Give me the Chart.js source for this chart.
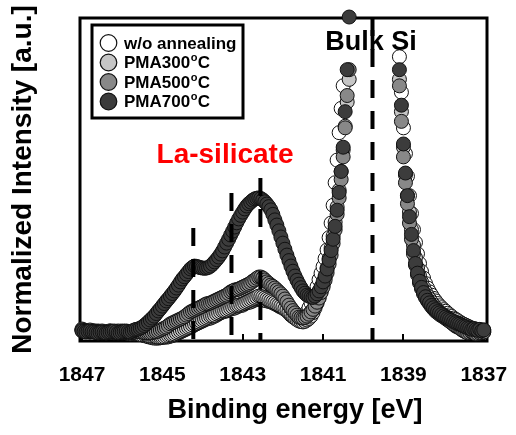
<!DOCTYPE html>
<html>
<head>
<meta charset="utf-8">
<script src="https://cdn.jsdelivr.net/npm/chart.js@4.4.1/dist/chart.umd.min.js"></script>
<style>
  html, body { margin: 0; padding: 0; background: #fff; }
</style>
</head>
<body>
<canvas id="chart" width="516" height="435"></canvas>
<script>
// Binding energy grid (eV), 0.05 eV steps
const energies = [
  1847.00,
  1846.95, 1846.90, 1846.85, 1846.80, 1846.75, 1846.70, 1846.65, 1846.60, 1846.55, 1846.50,
  1846.45, 1846.40, 1846.35, 1846.30, 1846.25, 1846.20, 1846.15, 1846.10, 1846.05, 1846.00,
  1845.95, 1845.90, 1845.85, 1845.80, 1845.75, 1845.70, 1845.65, 1845.60, 1845.55, 1845.50,
  1845.45, 1845.40, 1845.35, 1845.30, 1845.25, 1845.20, 1845.15, 1845.10, 1845.05, 1845.00,
  1844.95, 1844.90, 1844.85, 1844.80, 1844.75, 1844.70, 1844.65, 1844.60, 1844.55, 1844.50,
  1844.45, 1844.40, 1844.35, 1844.30, 1844.25, 1844.20, 1844.15, 1844.10, 1844.05, 1844.00,
  1843.95, 1843.90, 1843.85, 1843.80, 1843.75, 1843.70, 1843.65, 1843.60, 1843.55, 1843.50,
  1843.45, 1843.40, 1843.35, 1843.30, 1843.25, 1843.20, 1843.15, 1843.10, 1843.05, 1843.00,
  1842.95, 1842.90, 1842.85, 1842.80, 1842.75, 1842.70, 1842.65, 1842.60, 1842.55, 1842.50,
  1842.45, 1842.40, 1842.35, 1842.30, 1842.25, 1842.20, 1842.15, 1842.10, 1842.05, 1842.00,
  1841.95, 1841.90, 1841.85, 1841.80, 1841.75, 1841.70, 1841.65, 1841.60, 1841.55, 1841.50,
  1841.45, 1841.40, 1841.35, 1841.30, 1841.25, 1841.20, 1841.15, 1841.10, 1841.05, 1841.00,
  1840.95, 1840.90, 1840.85, 1840.80, 1840.75, 1840.70, 1840.65, 1840.60, 1840.55, 1840.50,
  1840.45, 1840.40, 1840.35, 1840.30, 1840.25, 1840.20, 1840.15, 1840.10, 1840.05, 1840.00,
  1839.95, 1839.90, 1839.85, 1839.80, 1839.75, 1839.70, 1839.65, 1839.60, 1839.55, 1839.50,
  1839.45, 1839.40, 1839.35, 1839.30, 1839.25, 1839.20, 1839.15, 1839.10, 1839.05, 1839.00,
  1838.95, 1838.90, 1838.85, 1838.80, 1838.75, 1838.70, 1838.65, 1838.60, 1838.55, 1838.50,
  1838.45, 1838.40, 1838.35, 1838.30, 1838.25, 1838.20, 1838.15, 1838.10, 1838.05, 1838.00,
  1837.95, 1837.90, 1837.85, 1837.80, 1837.75, 1837.70, 1837.65, 1837.60, 1837.55, 1837.50,
  1837.45, 1837.40, 1837.35, 1837.30, 1837.25, 1837.20, 1837.15, 1837.10, 1837.05, 1837.00
];

// Normalized intensity (a.u.), one value per energy above
const woAnneal = [
  3.7,
  3.4, 3.1, 3.2, 3.4, 3.1, 2.8, 3.0, 3.1, 2.8, 2.5, 2.6, 2.8, 3.0, 3.1, 2.8, 2.5, 2.6, 2.8, 3.0, 3.1,
  3.0, 2.8, 2.6, 2.5, 2.3, 2.2, 2.3, 2.5, 2.2, 1.9, 1.7, 1.5, 1.3, 1.2, 1.0, 0.9, 0.9, 0.9, 1.0, 1.2,
  1.2, 1.2, 1.3, 1.5, 1.7, 1.9, 2.2, 2.5, 2.8, 3.1, 3.4, 3.7, 4.0, 4.3, 4.6, 5.0, 5.3, 5.6, 5.9, 6.2,
  6.5, 6.8, 7.0, 7.1, 7.4, 7.7, 8.0, 8.4, 8.7, 9.0, 9.2, 9.3, 9.6, 9.9, 10.1, 10.2, 10.5, 10.8, 11.0, 11.1,
  11.5, 11.8, 12.0, 12.1, 12.4, 12.7, 12.9, 13.0, 12.9, 12.7, 12.6, 12.4, 12.3, 12.1, 11.8, 11.5, 11.2, 10.8, 10.5, 10.2,
  9.8, 9.3, 8.7, 8.0, 7.5, 7.1, 6.8, 6.5, 6.7, 7.1, 7.9, 9.0, 10.3, 11.8, 13.3, 14.9, 16.8, 19.0, 21.0, 23.0,
  25.5, 28.2, 32.0, 36.5, 42.0, 49.0, 56.0, 64.5, 72.0, 79.0, 115, 150, 190, 230, 270, 305, 335, 355, 370, 380,
  388, 390, 388, 380, 370, 355, 335, 310, 280, 250, 215, 180, 150, 128, 115, 112, 109, 88, 77, 66,
  58, 51, 45, 39.5, 34.5, 30.5, 27.0, 24.0, 21.5, 19.5, 17.8, 16.4, 15.2, 14.2, 13.2, 12.4, 11.6, 10.9, 10.3, 9.7,
  9.2, 8.6, 8.1, 7.6, 7.1, 6.7, 6.3, 5.9, 5.5, 5.2, 4.9, 4.6, 4.3, 4.0, 3.8, 3.7, 3.5, 3.4, 3.2, 3.4
];
const pma300 = [
  3.4,
  3.3, 3.1, 2.9, 2.8, 3.0, 3.1, 2.8, 2.5, 2.6, 2.8, 2.7, 2.5, 2.8, 3.1, 2.9, 2.8, 2.6, 2.5, 2.6, 2.8,
  2.7, 2.5, 2.3, 2.2, 2.4, 2.5, 2.3, 2.2, 2.0, 1.9, 2.0, 1.9, 1.7, 1.5, 1.5, 1.5, 1.3, 1.2, 1.2, 1.2,
  1.3, 1.5, 1.7, 1.9, 2.0, 2.2, 2.5, 2.8, 3.1, 3.4, 3.7, 4.0, 4.3, 4.6, 5.0, 5.3, 5.6, 5.9, 6.2, 6.5,
  6.8, 7.1, 7.4, 7.7, 7.8, 8.0, 8.4, 8.7, 9.0, 9.3, 9.4, 9.6, 9.9, 10.2, 10.5, 10.8, 11.0, 11.1, 11.3, 11.5,
  11.8, 12.1, 12.4, 12.7, 13.0, 13.3, 13.6, 13.9, 13.8, 13.6, 13.3, 13.0, 12.7, 12.4, 12.1, 11.8, 11.4, 11.1, 10.8, 10.5,
  10.0, 9.6, 9.0, 8.4, 7.7, 7.1, 6.6, 6.2, 6.0, 5.9, 6.1, 6.5, 7.0, 7.7, 8.8, 10.2, 11.7, 13.3, 15.2, 17.3,
  19.6, 22.6, 25.5, 28.8, 32.5, 36.8, 41.5, 46.7, 52.5, 59.1, 66.5, 74.0, 81.0, 112, 140, 175, 210, 245, 280, 310,
  335, 355, 368, 375, 375, 365, 350, 325, 295, 260, 225, 190, 155, 130, 115, 110, 108, 81, 71, 60,
  51.4, 45.0, 39.9, 34.5, 29.7, 25.8, 22.6, 20.2, 18.3, 16.6, 15.2, 14.0, 13.0, 12.0, 11.1, 10.3, 9.6, 9.0, 8.4, 8.0,
  7.6, 7.1, 6.6, 6.2, 5.8, 5.3, 4.9, 4.6, 4.3, 4.0, 3.7, 3.4, 3.2, 3.1, 2.9, 2.8, 2.6, 2.5, 2.6, 2.8
];
const pma500 = [
  3.4,
  3.2, 3.1, 2.9, 2.8, 3.0, 3.1, 2.9, 2.8, 2.9, 3.1, 2.8, 2.5, 2.6, 2.8, 2.8, 2.8, 2.9, 3.1, 2.8, 2.5,
  2.6, 2.8, 2.7, 2.5, 2.6, 2.8, 3.0, 3.1, 2.9, 2.8, 2.6, 2.5, 2.5, 2.5, 2.6, 2.8, 2.9, 3.1, 3.4, 3.7,
  4.0, 4.3, 4.8, 5.3, 5.6, 5.9, 6.2, 6.5, 6.8, 7.1, 7.5, 8.0, 8.5, 9.0, 9.3, 9.6, 9.9, 10.2, 10.5, 10.8,
  11.2, 11.5, 11.6, 11.8, 12.1, 12.4, 12.7, 13.0, 13.3, 13.6, 13.9, 14.2, 14.7, 15.2, 15.5, 15.8, 15.9, 16.1, 16.4, 16.7,
  17.0, 17.3, 17.6, 18.0, 18.5, 18.9, 19.4, 19.8, 19.8, 19.5, 18.9, 18.3, 17.8, 17.3, 16.9, 16.4, 15.8, 15.2, 14.6, 13.9,
  13.0, 12.1, 11.1, 10.2, 9.4, 8.7, 8.0, 7.4, 7.2, 7.1, 7.3, 7.7, 8.3, 9.0, 9.8, 10.8, 12.0, 13.3, 15.0, 16.7,
  18.8, 21.1, 23.8, 26.6, 30.2, 34.4, 39.2, 44.3, 50.0, 57.0, 66.0, 76.0, 84.0, 112, 140, 170, 205, 240, 275, 305,
  330, 350, 365, 370, 370, 360, 345, 320, 290, 255, 220, 185, 150, 125, 110, 108, 107, 79, 68, 57,
  49, 42.5, 36.5, 31.5, 27.0, 23.5, 20.5, 18.0, 16.2, 14.6, 13.4, 12.4, 11.5, 10.6, 9.9, 9.2, 8.7, 8.2, 7.8, 7.4,
  7.0, 6.5, 6.1, 5.6, 5.1, 4.6, 4.3, 4.0, 3.5, 3.1, 2.8, 2.5, 2.6, 2.8, 2.5, 2.2, 2.3, 2.5, 2.6, 2.8
];
const pma700 = [
  3.1,
  2.9, 2.8, 3.0, 3.1, 2.9, 2.8, 2.6, 2.5, 2.7, 2.8, 2.6, 2.5, 2.7, 2.8, 3.0, 3.1, 2.8, 2.5, 2.6, 2.8,
  3.0, 3.1, 2.9, 2.8, 3.1, 3.4, 3.6, 3.7, 4.0, 4.3, 4.8, 5.3, 5.9, 6.5, 7.1, 7.7, 8.5, 9.3, 10.0, 10.8,
  11.6, 12.4, 13.1, 13.9, 14.7, 15.5, 16.4, 17.3, 18.3, 19.2, 19.9, 20.7, 21.5, 22.3, 22.8, 23.2, 23.1, 22.9, 22.7, 22.6,
  22.5, 22.6, 22.8, 23.2, 23.8, 24.5, 25.2, 26.0, 26.9, 27.9, 29.1, 30.3, 31.5, 32.8, 34.0, 35.3, 36.6, 37.8, 38.9, 39.9,
  40.9, 41.8, 42.5, 43.0, 43.6, 44.0, 44.2, 44.3, 44.1, 43.7, 43.1, 42.4, 41.6, 40.6, 39.2, 37.5, 35.9, 34.1, 32.2, 30.3,
  28.4, 26.6, 24.9, 23.2, 21.6, 20.1, 18.8, 17.6, 16.5, 15.5, 14.8, 14.2, 13.9, 13.6, 13.5, 13.9, 14.6, 15.5, 16.8, 18.3,
  20.1, 22.3, 25.0, 28.0, 31.5, 35.5, 40.5, 46.0, 52.5, 60.0, 71.0, 84.0, 100.3, 125, 150, 180, 215, 250, 290, 320,
  345, 365, 380, 385, 385, 375, 360, 335, 305, 270, 235, 200, 165, 140, 125, 118, 112, 84, 73, 61,
  52, 45, 38.5, 33, 28, 24, 21, 18.5, 16.6, 15.0, 13.7, 12.6, 11.8, 11.0, 10.3, 9.7, 9.1, 8.7, 8.2, 7.8,
  7.4, 7.0, 6.7, 6.4, 6.0, 5.7, 5.4, 5.2, 4.9, 4.6, 4.4, 4.1, 3.9, 3.6, 3.8, 3.5, 3.3, 3.6, 3.2, 3.4
];

const seriesLabels = ['w/o annealing', 'PMA300\u00BAC', 'PMA500\u00BAC', 'PMA700\u00BAC'];
const seriesValues = [woAnneal, pma300, pma500, pma700];
const seriesColors = ['#ffffff', '#c6c6c6', '#888888', '#3c3c3c'];

const xTicks = [1847, 1845, 1843, 1841, 1839, 1837];

// Reference energies marked with dashed lines, and the intensity where each dash starts
const dashEnergies = [1844.23, 1843.28, 1842.56, 1839.77];
const dashTops = [35, 45.8, 50.5, 100];

const FONT = "'Liberation Sans', Arial, Helvetica, sans-serif";
Chart.defaults.font.family = FONT;
Chart.defaults.color = '#000';

// Draw text with the "º" rendered as a small raised o
function drawDegreeText(ctx, text, x, y, size) {
  const parts = text.split('\u00BA');
  ctx.font = `bold ${size}px ${FONT}`;
  ctx.fillText(parts[0], x, y);
  if (parts.length < 2) return;
  let cx = x + ctx.measureText(parts[0]).width + 0.5;
  ctx.font = `bold ${Math.round(size * 0.62)}px ${FONT}`;
  ctx.fillText('o', cx, y - size * 0.3);
  cx += ctx.measureText('o').width + 0.5;
  ctx.font = `bold ${size}px ${FONT}`;
  ctx.fillText(parts[1], cx, y);
}

// Plot frame with short inward ticks, under the markers
const framePlugin = {
  id: 'frame',
  beforeDatasetsDraw(chart) {
    const { ctx, chartArea: a, scales: { x } } = chart;
    ctx.save();
    ctx.strokeStyle = '#000';
    ctx.lineWidth = 3;
    ctx.strokeRect(a.left, a.top, a.right - a.left, a.bottom - a.top);
    ctx.lineWidth = 2;
    xTicks.forEach(v => {
      const px = Math.round(x.getPixelForValue(v));
      ctx.beginPath();
      ctx.moveTo(px, a.bottom);
      ctx.lineTo(px, a.bottom - 7);
      ctx.stroke();
    });
    ctx.restore();
  }
};

// Dashed markers, labels, legend and x title on top
const overlayPlugin = {
  id: 'overlay',
  afterDatasetsDraw(chart) {
    const { ctx, chartArea: a, scales: { x, y } } = chart;
    ctx.save();

    // dashed reference lines
    ctx.strokeStyle = '#000';
    ctx.lineWidth = 4;
    ctx.setLineDash([18, 13]);
    dashEnergies.forEach((e, i) => {
      const px = x.getPixelForValue(e);
      ctx.beginPath();
      ctx.moveTo(px, Math.max(y.getPixelForValue(dashTops[i]), a.top));
      ctx.lineTo(px, a.bottom);
      ctx.stroke();
    });
    ctx.setLineDash([]);

    // annotations
    ctx.textAlign = 'center';
    ctx.textBaseline = 'middle';
    ctx.fillStyle = '#000';
    ctx.font = `bold 27px ${FONT}`;
    ctx.fillText('Bulk Si', 371, 43);
    ctx.fillStyle = '#ff0000';
    ctx.font = `bold 28px ${FONT}`;
    ctx.fillText('La-silicate', 225, 155);

    // x axis title
    ctx.fillStyle = '#000';
    ctx.font = `bold 27px ${FONT}`;
    ctx.fillText('Binding energy [eV]', 295, 411);

    // legend
    ctx.fillStyle = '#fff';
    ctx.fillRect(92, 25, 151, 93);
    ctx.lineWidth = 3;
    ctx.strokeStyle = '#000';
    ctx.strokeRect(92, 25, 151, 93);
    ctx.textAlign = 'left';
    seriesLabels.forEach((label, i) => {
      const ry = 43 + i * 19.5;
      ctx.beginPath();
      ctx.arc(108.5, ry, 8.3, 0, Math.PI * 2);
      ctx.fillStyle = seriesColors[i];
      ctx.fill();
      ctx.lineWidth = 1.2;
      ctx.strokeStyle = '#111';
      ctx.stroke();
      ctx.fillStyle = '#000';
      drawDegreeText(ctx, label, 124, ry + 1, 17);
    });
    ctx.restore();
  }
};

const drawOrder = [3, 2, 1, 0]; // darkest series on top

const datasets = seriesLabels.map((label, i) => ({
  label,
  data: energies.map((e, j) => ({ x: e, y: seriesValues[i][j] })),
  showLine: false,
  pointRadius: 7,
  pointHoverRadius: 7,
  pointBorderWidth: 1,
  pointBackgroundColor: seriesColors[i],
  pointBorderColor: '#111',
  order: drawOrder[i],
  clip: 10
}));

new Chart(document.getElementById('chart'), {
  type: 'scatter',
  data: { datasets },
  options: {
    responsive: false,
    animation: false,
    events: [],
    devicePixelRatio: 1,
    layout: { padding: { left: 0, right: 29, top: 18, bottom: 0 } },
    plugins: {
      legend: { display: false },
      tooltip: { enabled: false }
    },
    scales: {
      x: {
        type: 'linear',
        reverse: true,
        min: 1836.92,
        max: 1847.05,
        grid: { display: false, drawTicks: false },
        border: { display: false },
        afterBuildTicks: scale => { scale.ticks = xTicks.map(v => ({ value: v })); },
        afterFit: scale => {
          scale.height = 94;
          scale.paddingLeft = 0;
          scale.paddingRight = 0;
        },
        ticks: {
          autoSkip: false,
          maxRotation: 0,
          minRotation: 0,
          padding: 22,
          color: '#000',
          font: { size: 21, weight: 'bold' },
          callback: v => String(v)
        }
      },
      y: {
        min: 0,
        max: 100,
        grid: { display: false, drawTicks: false },
        border: { display: false },
        ticks: { display: false },
        afterFit: scale => { scale.width = 80; },
        title: {
          display: true,
          text: 'Normalized Intensity [a.u.]',
          color: '#000',
          font: { size: 28, weight: 'bold' },
          padding: { top: 6, bottom: 0 }
        }
      }
    }
  },
  plugins: [framePlugin, overlayPlugin]
});
</script>
</body>
</html>
